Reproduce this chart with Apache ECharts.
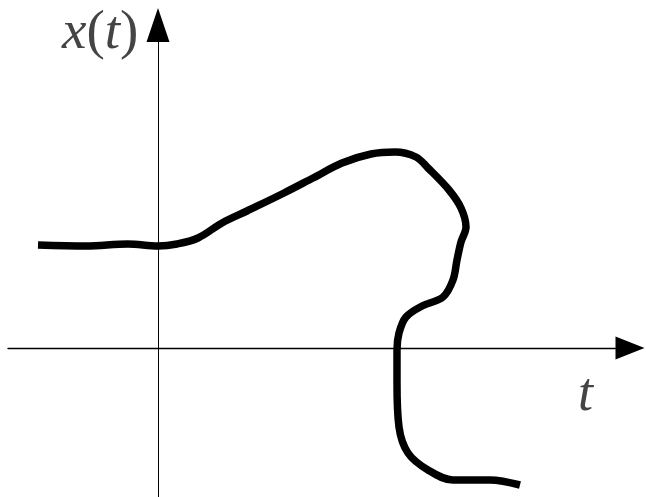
<!DOCTYPE html>
<html>
<head>
<meta charset="utf-8">
<script src="https://cdn.jsdelivr.net/npm/echarts@6/dist/echarts.min.js"></script>
<style>
  html, body { margin: 0; padding: 0; background: #fff; }
  #chart { width: 646px; height: 497px; }
</style>
</head>
<body>
<div id="chart"></div>
<script>
// sketch curve (t to the right, x(t) up, origin where axes cross)
const tValues = [-12.0, -7.2, -3.0, 0.0, 1.9, 4.0, 6.4, 8.9, 12.6, 15.5, 18.4, 21.3, 23.7, 25.8, 27.0, 29.1,
                 30.3, 30.8, 30.3, 29.9, 29.5, 28.5, 26.4, 24.8, 24.1, 23.9, 23.9, 24.1, 25.0, 27.0, 29.5, 33.2, 36.2]
const xValues = [10.3, 10.2, 10.4, 10.2, 10.4, 11.0, 12.5, 13.7, 15.5, 17.0, 18.5, 19.4, 19.6, 19.1, 18.0, 15.8,
                 14.0, 12.1, 10.6, 8.8, 6.8, 5.1, 4.2, 3.1, 1.5, -0.2, -3.5, -7.9, -10.5, -12.2, -13.2, -13.2, -13.7]
const axisNames = ['t', 'x(t)']

let myChart = echarts.init(document.getElementById('chart'))

let curve = tValues.map((t, i) => [t, xValues[i]])

myChart.setOption({
    animation: false,
    grid: { left: 8, right: 16, top: 25, bottom: 0 },
    xAxis: {
        type: 'value',
        min: -15,
        max: 47.2,
        splitLine: { show: false },
        axisTick: { show: false },
        axisLabel: { show: false },
        axisLine: {
            onZero: true,
            symbol: ['none', 'triangle'],
            symbolSize: [23, 29],
            lineStyle: { color: '#000', width: 1.3 }
        }
    },
    yAxis: {
        type: 'value',
        min: -14.9,
        max: 32.3,
        splitLine: { show: false },
        axisTick: { show: false },
        axisLabel: { show: false },
        axisLine: {
            onZero: true,
            symbol: ['none', 'triangle'],
            symbolSize: [23, 34],
            lineStyle: { color: '#000', width: 1 }
        }
    },
    graphic: [
        {
            type: 'text',
            left: 62,
            top: 6,
            style: {
                text: '{i|x}({i|t})',
                font: '55px "Liberation Serif"',
                fill: '#444',
                rich: {
                    i: { fontFamily: 'Liberation Serif', fontStyle: 'italic', fontSize: 55, fill: '#444' }
                }
            }
        },
        {
            type: 'text',
            left: 578,
            top: 369,
            style: {
                text: axisNames[0],
                font: 'italic 54px "Liberation Serif"',
                fill: '#444'
            }
        }
    ],
    series: [{
        type: 'line',
        data: curve,
        smooth: 0.35,
        symbol: 'none',
        lineStyle: { color: '#000', width: 7.5, join: 'round' }
    }]
})
</script>
</body>
</html>
